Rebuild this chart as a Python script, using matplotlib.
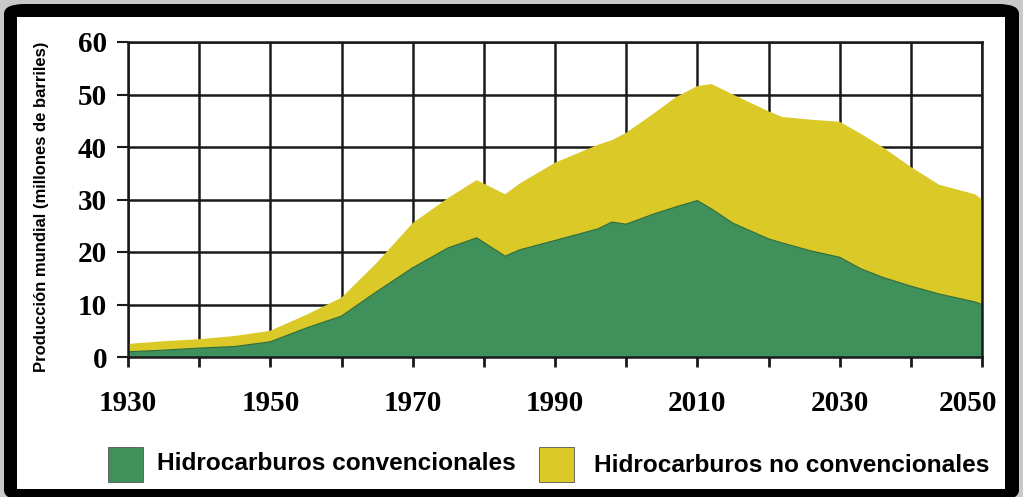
import matplotlib
matplotlib.use('Agg')

import numpy as np
import matplotlib.pyplot as plt
import matplotlib.transforms as mtransforms
from matplotlib.patches import Rectangle, FancyBboxPatch

# === Data ===
years = [1930, 1935, 1940, 1945, 1950, 1955, 1960, 1965, 1970, 1975, 1979,
         1983, 1985, 1990, 1996, 1998, 2000, 2004, 2007, 2010, 2012, 2015,
         2020, 2022, 2026, 2030, 2033, 2036, 2040, 2044, 2049, 2050]
convencionales = [1.0, 1.3, 1.7, 2.0, 2.9, 5.5, 7.8, 12.5, 17.0, 20.8, 22.7,
                  19.2, 20.4, 22.2, 24.4, 25.7, 25.3, 27.3, 28.6, 29.8, 28.2, 25.5,
                  22.5, 21.7, 20.2, 19.0, 16.8, 15.2, 13.5, 12.0, 10.5, 10.0]
total = [2.5, 3.0, 3.4, 4.0, 5.0, 8.0, 11.3, 18.0, 25.5, 30.3, 33.7,
         31.0, 33.0, 37.0, 40.4, 41.3, 42.7, 46.5, 49.5, 51.6, 52.0, 50.0,
         46.8, 45.7, 45.2, 44.8, 42.5, 40.0, 36.2, 32.8, 31.0, 30.0]
no_convencionales = list(np.array(total) - np.array(convencionales))

x_ticks = list(range(1930, 2051, 10))
x_labels = [str(y) if (y - 1930) % 20 == 0 else '' for y in x_ticks]
y_ticks = [0, 10, 20, 30, 40, 50, 60]

green = '#3f905b'
yellow = '#dac927'

W, H = 1023, 497
fig = plt.figure(figsize=(W / 100, H / 100), dpi=100, facecolor='#c8c8c8')

# === Frame ===
def px(x0, y0, x1, y1):
    return (x0 / W, 1 - y1 / H), (x1 - x0) / W, (y1 - y0) / H

xy, w, h = px(4, 4, 1019, 500)
fig.patches.append(FancyBboxPatch(xy, w, h, boxstyle='round,pad=0,rounding_size=0.02',
                                  transform=fig.transFigure, facecolor='black',
                                  edgecolor='none', zorder=0))
xy, w, h = px(17, 17, 1005, 489)
fig.patches.append(Rectangle(xy, w, h, transform=fig.transFigure,
                             facecolor='white', edgecolor='none', zorder=1))

# === Axes ===
ax = fig.add_axes([128 / W, 1 - 357 / H, (982 - 128) / W, (357 - 42) / H])
ax.set_zorder(3)
ax.set_facecolor('none')
ax.stackplot(years, convencionales, no_convencionales, colors=[green, yellow],
             zorder=3)
ax.plot(years, convencionales, color='#2d6b3a', lw=0.8, zorder=4)

ax.set_xlim(1930, 2050)
ax.set_ylim(0, 60)
ax.set_xticks(x_ticks)
ax.set_xticklabels(x_labels)
ax.set_yticks(y_ticks)
ax.grid(True, color='#1a1a1a', lw=1.8, zorder=1)
ax.set_axisbelow(True)
for s in ax.spines.values():
    s.set_color('#1a1a1a')
    s.set_linewidth(1.8)
    s.set_zorder(5)

ax.tick_params(axis='x', direction='out', length=7, width=2, color='#1a1a1a',
               pad=17, labelsize=21)
ax.tick_params(axis='y', direction='out', length=8, width=1.5, color='#1a1a1a',
               pad=7, labelsize=21)
for lab in ax.get_xticklabels() + ax.get_yticklabels():
    lab.set_fontfamily('Liberation Serif')
    lab.set_fontweight('bold')

# last year label sits a bit left of its tick, inside the frame
last = ax.get_xticklabels()[-1]
last.set_transform(last.get_transform() +
                   mtransforms.ScaledTranslation(-14 / 100, 0, fig.dpi_scale_trans))

fig.text(42 / W, 1 - 207 / H, 'Producción mundial (millones de barriles)',
         rotation=90, ha='center', va='center', fontsize=12, fontweight='bold',
         family='Liberation Sans', zorder=6)

# === Legend ===
for x0, col in [(108, green), (539, yellow)]:
    xy, w, h = px(x0, 447, x0 + 35, 482)
    fig.patches.append(Rectangle(xy, w, h, transform=fig.transFigure,
                                 facecolor=col, edgecolor='#555555', lw=0.6, zorder=2))
fig.text(157 / W, 1 - 463 / H, 'Hidrocarburos convencionales', ha='left', va='center',
         fontsize=17.6, fontweight='bold', family='Liberation Sans', zorder=6)
fig.text(594 / W, 1 - 466 / H, 'Hidrocarburos no convencionales', ha='left', va='center',
         fontsize=17.6, fontweight='bold', family='Liberation Sans', zorder=6)

fig.savefig('out.png', dpi=100, facecolor=fig.get_facecolor())
